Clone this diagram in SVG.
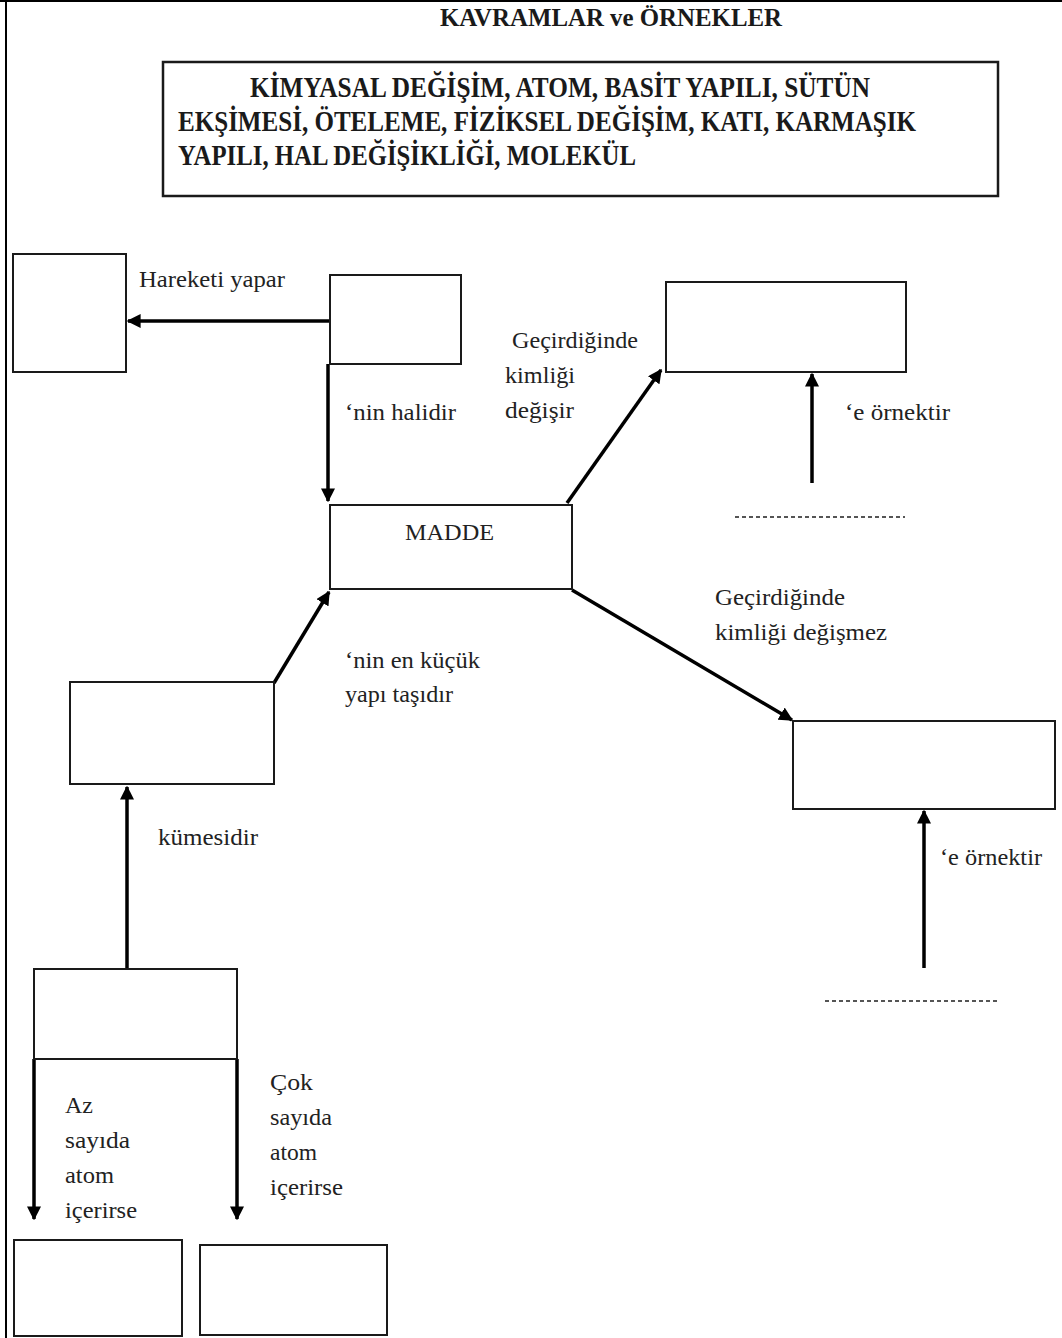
<svg xmlns="http://www.w3.org/2000/svg" width="1062" height="1338" viewBox="0 0 1062 1338">
<style>
.box{fill:#fff;stroke:#1a1a1a;stroke-width:2}
.con{stroke:#000;stroke-width:3.5;fill:none}
.lbl{font-family:"Liberation Serif","Times New Roman",serif;font-size:24px;fill:#222}
.hd{font-family:"Liberation Serif","Times New Roman",serif;font-size:29px;font-weight:bold;fill:#1a1a1a}
.dots{stroke:#555;stroke-width:2;stroke-dasharray:4 3}
</style>
<defs>
<marker id="ah" viewBox="0 0 10 10" refX="9" refY="5" markerWidth="4" markerHeight="4" orient="auto" markerUnits="strokeWidth">
<path d="M0,0 L10,5 L0,10 z" fill="#000"/>
</marker>
</defs>
<rect width="1062" height="1338" fill="#fff"/>
<g id="frame">
<line x1="0" y1="1" x2="1062" y2="1" stroke="#000" stroke-width="2"/>
<line x1="6" y1="0" x2="6" y2="1338" stroke="#000" stroke-width="2"/>
</g>
<g id="title">
<text x="440" y="26" font-family="Liberation Serif, Times New Roman, serif" font-size="26" font-weight="bold" fill="#1a1a1a" textLength="342" lengthAdjust="spacingAndGlyphs">KAVRAMLAR ve ÖRNEKLER</text>
</g>
<g id="concepts">
<rect x="163" y="62" width="835" height="134" fill="#fff" stroke="#1a1a1a" stroke-width="2.5"/>
<text class="hd" x="250" y="97" textLength="620" lengthAdjust="spacingAndGlyphs">KİMYASAL DEĞİŞİM, ATOM, BASİT YAPILI, SÜTÜN</text>
<text class="hd" x="178" y="131" textLength="738" lengthAdjust="spacingAndGlyphs">EKŞİMESİ,  ÖTELEME, FİZİKSEL DEĞİŞİM, KATI, KARMAŞIK</text>
<text class="hd" x="178" y="165" textLength="458" lengthAdjust="spacingAndGlyphs">YAPILI, HAL DEĞİŞİKLİĞİ, MOLEKÜL</text>
</g>
<g id="connectors">
<line class="con" x1="330" y1="321" x2="128" y2="321" marker-end="url(#ah)"/>
<line class="con" x1="328" y1="364" x2="328" y2="501" marker-end="url(#ah)"/>
<line class="con" x1="567" y1="503" x2="661" y2="370" marker-end="url(#ah)"/>
<line class="con" x1="812" y1="483" x2="812" y2="374" marker-end="url(#ah)"/>
<line class="con" x1="572" y1="590" x2="792" y2="720" marker-end="url(#ah)"/>
<line class="con" x1="924" y1="968" x2="924" y2="811" marker-end="url(#ah)"/>
<line class="con" x1="274" y1="683" x2="329" y2="592" marker-end="url(#ah)"/>
<line class="con" x1="127" y1="969" x2="127" y2="787" marker-end="url(#ah)"/>
<line class="con" x1="34" y1="1059" x2="34" y2="1219" marker-end="url(#ah)"/>
<line class="con" x1="237" y1="1059" x2="237" y2="1219" marker-end="url(#ah)"/>
</g>
<g id="boxA"><rect class="box" x="13" y="254" width="113" height="118"/></g>
<g id="boxB"><rect class="box" x="330" y="275" width="131" height="89"/></g>
<g id="madde"><rect class="box" x="330" y="505" width="242" height="84"/>
<text class="lbl" x="405" y="540" textLength="89" lengthAdjust="spacingAndGlyphs">MADDE</text></g>
<g id="boxC"><rect class="box" x="666" y="282" width="240" height="90"/></g>
<g id="boxD"><rect class="box" x="793" y="721" width="262" height="88"/></g>
<g id="boxE"><rect class="box" x="70" y="682" width="204" height="102"/></g>
<g id="boxF"><rect class="box" x="34" y="969" width="203" height="90"/></g>
<g id="boxG"><rect class="box" x="14" y="1240" width="168" height="96"/></g>
<g id="boxH"><rect class="box" x="200" y="1245" width="187" height="90"/></g>
<g id="labels">
<text class="lbl" x="139" y="287" textLength="146" lengthAdjust="spacingAndGlyphs">Hareketi yapar</text>
<text class="lbl" x="345" y="420" textLength="111" lengthAdjust="spacingAndGlyphs">‘nin halidir</text>
<text class="lbl" x="512" y="348" textLength="126" lengthAdjust="spacingAndGlyphs">Geçirdiğinde</text>
<text class="lbl" x="505" y="383" textLength="70" lengthAdjust="spacingAndGlyphs">kimliği</text>
<text class="lbl" x="505" y="418" textLength="69" lengthAdjust="spacingAndGlyphs">değişir</text>
<text class="lbl" x="845" y="420" textLength="105" lengthAdjust="spacingAndGlyphs">‘e örnektir</text>
<text class="lbl" x="715" y="605" textLength="130" lengthAdjust="spacingAndGlyphs">Geçirdiğinde</text>
<text class="lbl" x="715" y="640" textLength="172" lengthAdjust="spacingAndGlyphs">kimliği değişmez</text>
<text class="lbl" x="345" y="668" textLength="135" lengthAdjust="spacingAndGlyphs">‘nin en küçük</text>
<text class="lbl" x="345" y="702" textLength="108" lengthAdjust="spacingAndGlyphs">yapı taşıdır</text>
<text class="lbl" x="158" y="845" textLength="100" lengthAdjust="spacingAndGlyphs">kümesidir</text>
<text class="lbl" x="940" y="865" textLength="102" lengthAdjust="spacingAndGlyphs">‘e örnektir</text>
<text class="lbl" x="65" y="1113">Az</text>
<text class="lbl" x="65" y="1148" textLength="65" lengthAdjust="spacingAndGlyphs">sayıda</text>
<text class="lbl" x="65" y="1183" textLength="49" lengthAdjust="spacingAndGlyphs">atom</text>
<text class="lbl" x="65" y="1218" textLength="72" lengthAdjust="spacingAndGlyphs">içerirse</text>
<text class="lbl" x="270" y="1090" textLength="43" lengthAdjust="spacingAndGlyphs">Çok</text>
<text class="lbl" x="270" y="1125" textLength="62" lengthAdjust="spacingAndGlyphs">sayıda</text>
<text class="lbl" x="270" y="1160" textLength="47" lengthAdjust="spacingAndGlyphs">atom</text>
<text class="lbl" x="270" y="1195" textLength="73" lengthAdjust="spacingAndGlyphs">içerirse</text>
</g>
<g id="blanks">
<line class="dots" x1="735" y1="517" x2="905" y2="517"/>
<line class="dots" x1="825" y1="1001" x2="998" y2="1001"/>
</g>
</svg>
